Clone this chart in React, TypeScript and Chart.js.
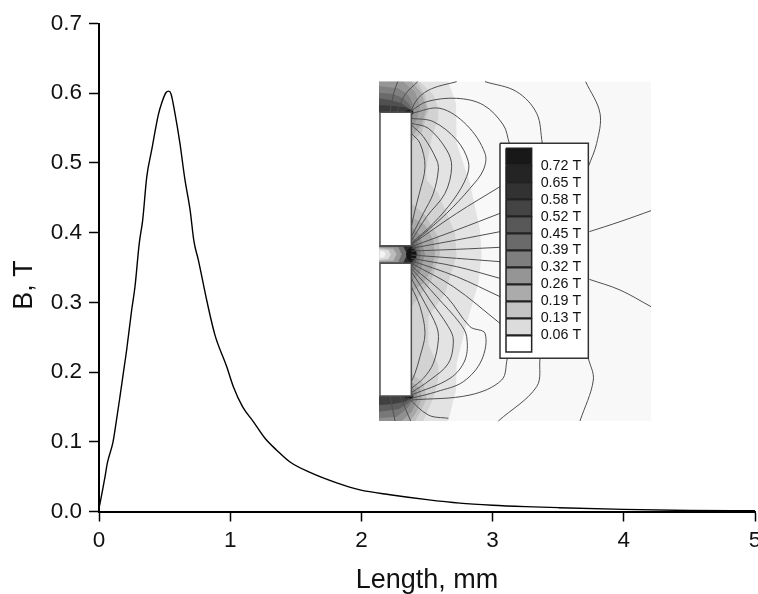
import React, { useEffect, useRef } from "react";
import { Chart, registerables } from "chart.js";

Chart.register(...registerables);

type P = [number, number];

const FONT = '"Liberation Sans", Arial, sans-serif';

// ---- main curve (mm, tesla)
const lengthMm = [0, .008, .046, .063, .107, .122, .160, .185, .211, .249, .274, .307, .333, .364, .402, .452, .478, .511, .531, .549, .579, .617, .655, .694, .724, .757, .821, .884, .973, 1.024, 1.095, 1.176, 1.265, 1.354, 1.456, 1.608, 1.812, 1.989, 2.218, 2.5, 2.75, 3, 3.25, 3.5, 4, 4.5, 5];
const fieldT = [.005, .012, .050, .069, .100, .117, .165, .198, .232, .289, .322, .385, .418, .480, .519, .569, .586, .601, .603, .599, .571, .528, .476, .433, .387, .361, .303, .253, .208, .179, .150, .129, .105, .088, .071, .056, .041, .031, .024, .017, .012, .009, .007, .0055, .003, .0015, .001];

const xMajor = [0, 1, 2, 3, 4, 5];
const xMinor = [0.5, 1.5, 2.5, 3.5, 4.5];
const yMajor = [0, .1, .2, .3, .4, .5, .6, .7];
const yMinor = [.05, .15, .25, .35, .45, .55, .65];
const yTitle = "B, T";
const xTitle = "Length, mm";

// ---- inset, in the inset's own sample units
const insetFrame: P[] = [[27, 35], [843, 35], [843, 1053], [27, 1053]];
const fieldBands: [string, P[]][] = [
  ["#e3e3e3", [[27, 35], [235, 35], [258, 100], [260, 220], [300, 340], [330, 480], [335, 555], [325, 640], [290, 760], [260, 880], [258, 960], [235, 1053], [27, 1053]]],
  ["#d2d2d2", [[27, 35], [150, 35], [190, 74], [205, 114], [205, 144], [185, 204], [168, 300], [170, 330], [205, 370], [255, 490], [260, 555], [225, 670], [175, 740], [175, 825], [205, 885], [205, 925], [190, 985], [160, 1053], [27, 1053]]],
  ["#bfbfbf", [[124, 400], [165, 435], [205, 500], [210, 550], [185, 630], [125, 710]]],
  ["#bfbfbf", [[27, 35], [140, 35], [165, 74], [175, 119], [155, 189], [124, 215], [124, 127], [27, 127]]],
  ["#bfbfbf", [[124, 910], [160, 940], [170, 985], [150, 1030], [135, 1053], [27, 1053], [27, 978], [124, 978]]],
  ["#a8a8a8", [[124, 440], [165, 465], [190, 510], [195, 553], [185, 600], [160, 640], [124, 665]]],
  ["#909090", [[124, 470], [150, 495], [165, 553], [150, 610], [124, 635]]],
  ["#787878", [[124, 495], [145, 520], [152, 553], [145, 585], [124, 610]]],
  ["#585858", [[124, 510], [138, 530], [143, 553], [138, 575], [124, 595]]],
  ["#383838", [[124, 522], [132, 538], [136, 553], [132, 568], [124, 585]]],
  ["#a8a8a8", [[27, 35], [125, 35], [155, 70], [170, 115], [155, 165], [124, 200], [124, 127], [27, 127]]],
  ["#969696", [[27, 35], [100, 35], [135, 65], [150, 110], [140, 150], [124, 175], [124, 127], [27, 127]]],
  ["#808080", [[27, 48], [85, 55], [115, 75], [130, 105], [130, 135], [124, 155], [124, 127], [27, 127]]],
  ["#6a6a6a", [[27, 68], [70, 72], [100, 85], [120, 105], [128, 128], [124, 145], [124, 127], [27, 127]]],
  ["#505050", [[27, 85], [60, 90], [95, 100], [115, 113], [128, 125], [124, 135], [124, 127], [27, 127]]],
  ["#3a3a3a", [[27, 105], [70, 108], [105, 112], [124, 120], [127, 127], [27, 127]]],
  ["#161616", [[100, 127], [115, 120], [128, 121], [131, 128], [126, 134], [124, 127]]],
  ["#a8a8a8", [[124, 935], [150, 955], [155, 985], [140, 1025], [120, 1053], [27, 1053], [27, 978], [124, 978]]],
  ["#909090", [[124, 950], [140, 965], [142, 990], [125, 1025], [95, 1053], [27, 1053], [27, 978], [124, 978]]],
  ["#787878", [[124, 962], [132, 975], [130, 990], [112, 1015], [80, 1040], [27, 1045], [27, 978], [124, 978]]],
  ["#5e5e5e", [[118, 978], [124, 968], [130, 980], [115, 1000], [85, 1018], [27, 1025], [27, 978]]],
  ["#404040", [[124, 972], [128, 982], [105, 995], [65, 1003], [27, 1005], [27, 978]]],
  ["#161616", [[100, 978], [124, 976], [131, 981], [124, 986], [110, 985]]],
  ["#2a2a2a", [[27, 527], [124, 527], [124, 580], [27, 580]]],
  ["#707070", [[27, 529], [100, 530], [112, 553], [100, 578], [27, 579]]],
  ["#999999", [[27, 531], [85, 532], [95, 553], [85, 576], [27, 576]]],
  ["#bbbbbb", [[27, 533], [70, 536], [80, 553], [70, 572], [27, 574]]],
  ["#dddddd", [[27, 537], [55, 540], [63, 553], [55, 567], [27, 570]]],
  ["#f4f4f4", [[30, 543], [42, 544], [47, 553], [42, 562], [30, 564]]],
  ["#141414", [[112, 540], [124, 530], [137, 542], [140, 553], [137, 564], [124, 578], [112, 566], [108, 553]]],
];

const contourLines: P[][] = [
  [[60, 127], [70, 74], [83, 35]],
  [[80, 127], [105, 74], [143, 35]],
  [[120, 127], [145, 84], [185, 56], [260, 35]],
  [[345, 35], [440, 65], [500, 130], [517, 220]],
  [[647, 35], [690, 130], [680, 220], [655, 290]],
  [[124, 122], [170, 95], [260, 85], [340, 105], [400, 165], [418, 220]],
  [[124, 130], [210, 115], [290, 165], [345, 250], [340, 300], [300, 355], [230, 430], [124, 524]],
  [[124, 145], [190, 155], [260, 210], [295, 275], [290, 320], [250, 390], [190, 460], [124, 520]],
  [[124, 160], [175, 175], [230, 240], [245, 290], [225, 370], [170, 440], [124, 512]],
  [[124, 165], [160, 200], [200, 270], [205, 300], [190, 370], [160, 430], [124, 500]],
  [[124, 190], [150, 220], [165, 290], [148, 370], [135, 420], [124, 470]],
  [[124, 524], [260, 430], [390, 350]],
  [[124, 530], [260, 480], [390, 430]],
  [[124, 535], [260, 510], [390, 485]],
  [[124, 543], [260, 538], [390, 532]],
  [[124, 555], [260, 565], [390, 575]],
  [[124, 565], [260, 590], [390, 625]],
  [[124, 572], [260, 620], [390, 680]],
  [[124, 580], [250, 650], [390, 760]],
  [[658, 485], [750, 455], [843, 422]],
  [[658, 628], [750, 660], [843, 710]],
  [[124, 588], [230, 680], [300, 770], [345, 790], [335, 870], [280, 935], [200, 965], [124, 985]],
  [[124, 595], [200, 680], [270, 760], [290, 800], [285, 870], [240, 925], [124, 975]],
  [[124, 605], [180, 690], [235, 770], [250, 810], [235, 880], [180, 930], [124, 968]],
  [[124, 625], [165, 700], [200, 770], [205, 810], [190, 880], [160, 925], [124, 955]],
  [[124, 650], [150, 710], [165, 790], [150, 860], [135, 910], [124, 935]],
  [[412, 865], [395, 930], [300, 975], [124, 990]],
  [[510, 865], [500, 950], [385, 1053]],
  [[655, 865], [670, 930], [630, 1053]],
  [[60, 978], [75, 1053]],
  [[90, 978], [122, 1053]],
  [[112, 982], [175, 1035], [235, 1045]],
];

const magnets: P[][] = [
  [[30, 127], [124, 127], [124, 527], [30, 527]],
  [[30, 580], [124, 580], [124, 978], [30, 978]],
];

const legendBox: P[] = [[390, 220], [655, 220], [655, 865], [390, 865]];
const legendRowTops = [235, 287, 338, 389, 440, 491, 542, 593, 644, 695, 746, 797];
const legendRowHeight = 49;
const legendSwatchX: [number, number] = [408, 485];
const legendColors = ["#181818", "#242424", "#323232", "#444444", "#585858", "#6a6a6a", "#7e7e7e", "#959595", "#ababab", "#c4c4c4", "#dcdcdc", "#ffffff"];
const legendLabels = ["0.72 T", "0.65 T", "0.58 T", "0.52 T", "0.45 T", "0.39 T", "0.32 T", "0.26 T", "0.19 T", "0.13 T", "0.06 T"];
const legendLabelY = [287, 338, 389, 440, 491, 541, 592, 643, 693, 744, 795];
const legendLabelX = 512;

const toXY = (pts: P[]) => pts.map(([x, y]) => ({ x, y }));

const insetBase = { xAxisID: "ix", yAxisID: "iy", showLine: true, pointRadius: 0, tension: 0 };
const poly = (pts: P[], fillColor: string, stroke?: string, width = 0) => ({
  ...insetBase,
  data: toXY([...pts, pts[0]]),
  fill: "shape",
  backgroundColor: fillColor,
  borderColor: stroke ?? fillColor,
  borderWidth: width,
});

const textPlugin = {
  id: "insetAndTitleText",
  afterDatasetsDraw(chart: any) {
    const { ctx, scales, chartArea } = chart;
    ctx.save();
    ctx.fillStyle = "#111";
    ctx.font = `14.3px ${FONT}`;
    ctx.textBaseline = "middle";
    ctx.textAlign = "left";
    legendLabels.forEach((t, i) => {
      ctx.fillText(t, scales.ix.getPixelForValue(legendLabelX), scales.iy.getPixelForValue(legendLabelY[i]));
    });
    ctx.translate(32, (chartArea.top + chartArea.bottom) / 2 + 17.5);
    ctx.rotate(-Math.PI / 2);
    ctx.font = `27px ${FONT}`;
    ctx.textAlign = "center";
    ctx.textBaseline = "alphabetic";
    ctx.fillText(yTitle, 0, 0);
    ctx.restore();
  },
};

const setTicks = (values: number[]) => (scale: any) => {
  scale.ticks = values.map((value) => ({ value }));
};

export default function App() {
  const ref = useRef<HTMLCanvasElement>(null);
  useEffect(() => {
    if (!ref.current) return;
    const layers: any[] = [
      poly(insetFrame, "#f8f8f8"),
      ...fieldBands.map(([c, pts]) => poly(pts, c)),
      ...contourLines.map((pts) => ({ ...insetBase, tension: 0.35, data: toXY(pts), fill: false, borderColor: "#4f4f4f", borderWidth: 1 })),
      ...magnets.map((m) => poly(m, "#ffffff", "#505050", 1.5)),
      poly(legendBox, "#ffffff", "#333333", 1.5),
      ...legendColors.map((c, i) =>
        poly(
          [[legendSwatchX[0], legendRowTops[i]], [legendSwatchX[1], legendRowTops[i]], [legendSwatchX[1], legendRowTops[i] + legendRowHeight], [legendSwatchX[0], legendRowTops[i] + legendRowHeight]],
          c, "#222222", 1.5)
      ),
      {
        xAxisID: "x", yAxisID: "y", showLine: true, pointRadius: 0, cubicInterpolationMode: "monotone", fill: false,
        data: lengthMm.map((x, i) => ({ x, y: fieldT[i] })),
        borderColor: "#000", borderWidth: 1.4,
      },
    ];
    const tickFont = { family: FONT, size: 22.5 };
    const chart = new Chart(ref.current, {
      type: "scatter",
      data: { datasets: layers.map((d, i) => ({ ...d, order: layers.length - i })) },
      plugins: [textPlugin],
      options: {
        animation: false,
        responsive: false,
        devicePixelRatio: 1,
        layout: { padding: { top: 23.5, right: 3, left: 0, bottom: 0 } },
        plugins: { legend: { display: false }, tooltip: { enabled: false } },
        scales: {
          x: {
            type: "linear", position: "bottom", min: 0, max: 5,
            afterBuildTicks: setTicks(xMajor),
            afterFit: (s: any) => { s.height = 82.5; s.paddingRight = 0; s.paddingLeft = 0; },
            border: { color: "#000", width: 2 },
            grid: { drawOnChartArea: false, tickLength: 10, tickColor: "#000", tickWidth: 1.5 },
            ticks: { font: tickFont, color: "#111", padding: 6, maxRotation: 0, callback: (v: any) => String(v) },
            title: { display: true, text: xTitle, font: { family: FONT, size: 27, lineHeight: 1 }, color: "#111", padding: 0 },
          },
          x2: {
            type: "linear", position: "bottom", min: 0, max: 5,
            afterBuildTicks: setTicks(xMinor),
            afterFit: (s: any) => { s.height = 0; s.paddingRight = 0; s.paddingLeft = 0; },
            border: { display: false },
            grid: { drawOnChartArea: false, tickLength: 6, tickColor: "#000", tickWidth: 1.5 },
            ticks: { display: false },
          },
          y: {
            type: "linear", position: "left", min: 0, max: 0.7,
            afterBuildTicks: setTicks(yMajor),
            afterFit: (s: any) => { s.width = 99; s.paddingTop = 0; s.paddingBottom = 0; },
            border: { color: "#000", width: 2 },
            grid: { drawOnChartArea: false, tickLength: 10, tickColor: "#000", tickWidth: 1.5 },
            ticks: { font: tickFont, color: "#111", padding: 7, callback: (v: any) => Number(v).toFixed(1) },
          },
          y2: {
            type: "linear", position: "left", min: 0, max: 0.7,
            afterBuildTicks: setTicks(yMinor),
            afterFit: (s: any) => { s.width = 0; s.paddingTop = 0; s.paddingBottom = 0; },
            border: { display: false },
            grid: { drawOnChartArea: false, tickLength: 6, tickColor: "#000", tickWidth: 1.5 },
            ticks: { display: false },
          },
          ix: { type: "linear", display: false, min: -813, max: 1155 },
          iy: { type: "linear", display: false, reverse: true, min: -139.5, max: 1324.5 },
        },
      },
    } as any);
    return () => chart.destroy();
  }, []);
  return (
    <div style={{ position: "absolute", left: 0, top: 0, background: "#fff" }}>
      <canvas ref={ref} width={758} height={594} style={{ display: "block" }} />
    </div>
  );
}
